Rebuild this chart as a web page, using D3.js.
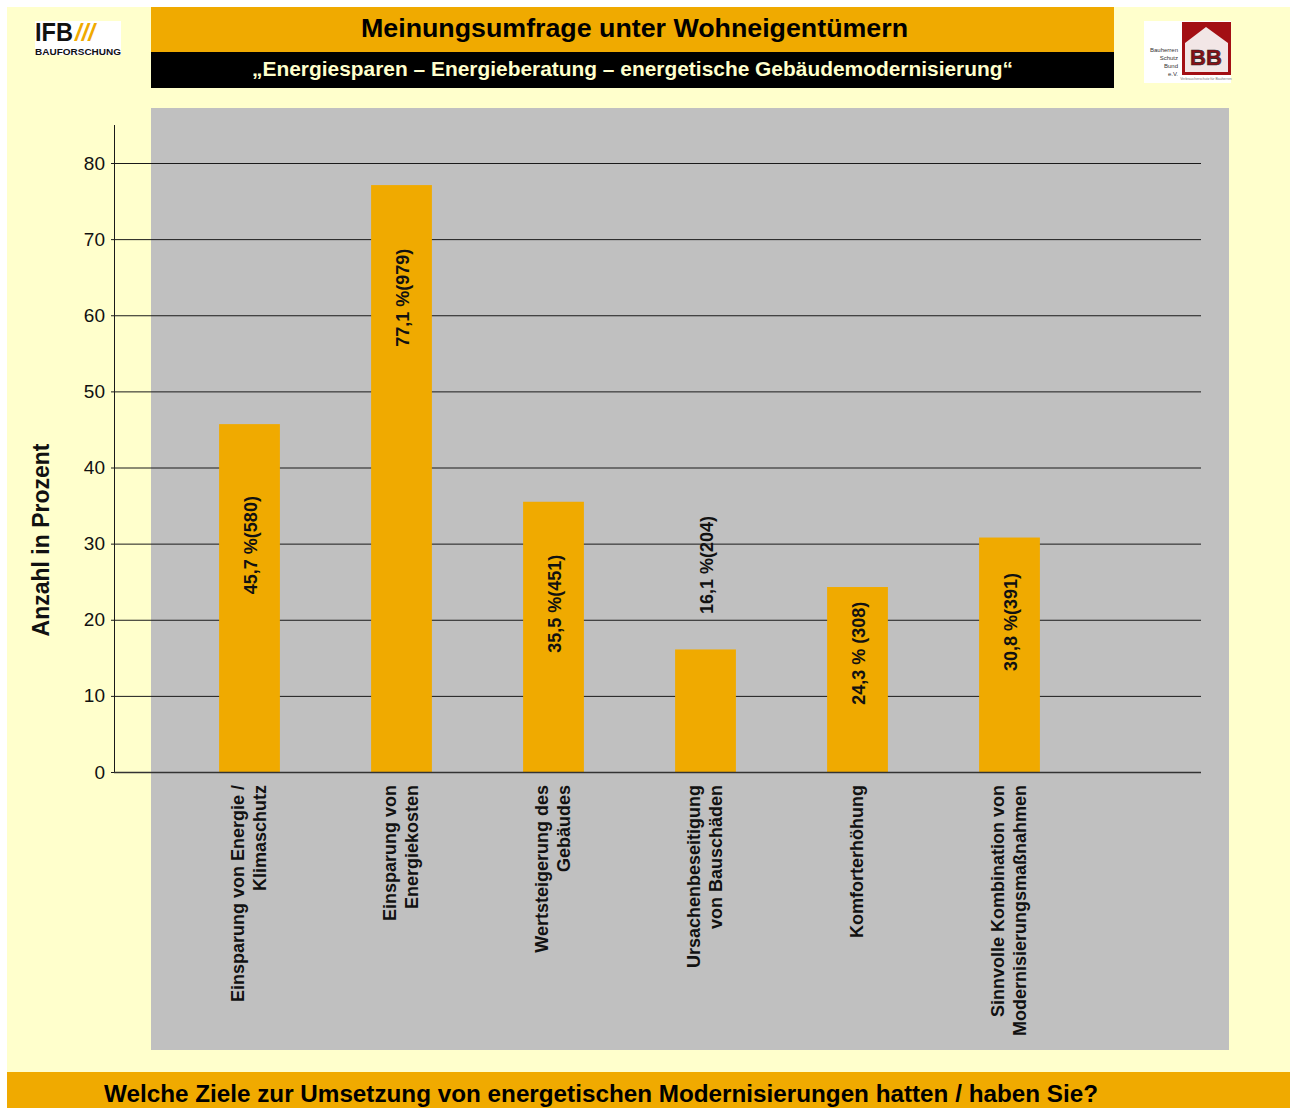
<!DOCTYPE html>
<html lang="de">
<head>
<meta charset="UTF-8">
<title>Meinungsumfrage unter Wohneigentümern</title>
<script src="https://cdn.jsdelivr.net/npm/d3@7"></script>
<style>
    body{ margin:0; background:#ffffff; }
    svg{ display:block; font-family:"Liberation Sans", Arial, sans-serif; }
</style>
</head>
<body>
<svg></svg>
<script>
    // Data
    const categories = [
        ["Einsparung von Energie /", "Klimaschutz"],
        ["Einsparung von", "Energiekosten"],
        ["Wertsteigerung des", "Gebäudes"],
        ["Ursachenbeseitigung", "von Bauschäden"],
        ["Komforterhöhung"],
        ["Sinnvolle Kombination von", "Modernisierungsmaßnahmen"]
    ];
    const values = [45.7, 77.1, 35.5, 16.1, 24.3, 30.8];
    const counts = [580, 979, 451, 204, 308, 391];
    const valueLabels = ["45,7 %(580)", "77,1 %(979)", "35,5 %(451)", "16,1 %(204)", "24,3 % (308)", "30,8 %(391)"];
    // where each value label sits, in axis units (placed by hand in the original)
    const labelAt = [29.8, 62.3, 22.1, 27.2, 15.6, 19.7];
    const yTicks = [0, 10, 20, 30, 40, 50, 60, 70, 80];

    const title = "Meinungsumfrage unter Wohneigentümern";
    const subtitle = "\u201EEnergiesparen \u2013 Energieberatung \u2013 energetische Gebäudemodernisierung\u201C";
    const question = "Welche Ziele zur Umsetzung von energetischen Modernisierungen hatten / haben Sie?";
    const yTitle = "Anzahl in Prozent";

    const width = 1290, height = 1108;
    const orange = "#f0aa00", cream = "#ffffcc", grey = "#c0c0c0";

    const svg = d3.select("svg").attr("width", width).attr("height", height);

    // page background
    svg.append("rect").attr("x", 7).attr("y", 7).attr("width", width - 7).attr("height", height - 7).attr("fill", cream);

    // header boxes
    svg.append("rect").attr("x", 151).attr("y", 7).attr("width", 963).attr("height", 45).attr("fill", orange);
    svg.append("rect").attr("x", 151).attr("y", 52).attr("width", 963).attr("height", 36).attr("fill", "#000");
    svg.append("text").attr("x", 361).attr("y", 37)
        .attr("textLength", 547).attr("lengthAdjust", "spacingAndGlyphs")
        .attr("font-size", 26).attr("font-weight", "bold").attr("fill", "#000").text(title);
    svg.append("text").attr("x", 252).attr("y", 76)
        .attr("textLength", 761).attr("lengthAdjust", "spacingAndGlyphs")
        .attr("font-size", 20).attr("font-weight", "bold").attr("fill", cream).text(subtitle);

    // IFB logo
    const ifb = svg.append("g").attr("transform", "translate(35,21)");
    ifb.append("rect").attr("width", 86).attr("height", 34).attr("fill", "#fff");
    ifb.append("text").attr("x", 0).attr("y", 20).attr("font-size", 26).attr("font-weight", "bold")
        .attr("textLength", 38).attr("lengthAdjust", "spacingAndGlyphs").attr("fill", "#111").text("IFB");
    ifb.append("text").attr("x", 40).attr("y", 20).attr("font-size", 24).attr("font-weight", "bold")
        .attr("font-style", "italic").attr("fill", orange).text("///");
    ifb.append("text").attr("x", 0).attr("y", 34).attr("font-size", 9).attr("font-weight", "bold")
        .attr("textLength", 86).attr("lengthAdjust", "spacingAndGlyphs").attr("fill", "#111").text("BAUFORSCHUNG");

    // Bauherren-Schutzbund logo
    const bsb = svg.append("g").attr("transform", "translate(1144,21)");
    bsb.append("rect").attr("width", 87).attr("height", 62).attr("fill", "#fff");
    ["Bauherren", "Schutz", "Bund", "e.V."].forEach((t, i) => {
        bsb.append("text").attr("x", 34).attr("y", 31 + i * 8).attr("text-anchor", "end")
            .attr("font-size", 6).attr("fill", "#333").text(t);
    });
    bsb.append("rect").attr("x", 38).attr("y", 1).attr("width", 49).attr("height", 53).attr("fill", "#a30f14");
    bsb.append("path").attr("d", "M41,22 L62,6 L84,22 L84,51 L41,51 Z").attr("fill", "#f2e6e6");
    bsb.append("text").attr("x", 62).attr("y", 44).attr("text-anchor", "middle").attr("font-size", 22)
        .attr("font-weight", "bold").attr("fill", "#8a1015").attr("stroke", "#222").attr("stroke-width", 0.6).text("BB");
    bsb.append("text").attr("x", 62).attr("y", 59).attr("text-anchor", "middle").attr("font-size", 3.5)
        .attr("fill", "#777").text("Verbraucherschutz für Bauherren");

    // plot area
    svg.append("rect").attr("x", 151).attr("y", 108).attr("width", 1078).attr("height", 942).attr("fill", grey);

    // scales
    const y = d3.scaleLinear().domain([0, 80]).range([772, 163]);
    const x = d3.scaleBand().domain(d3.range(categories.length))
        .range([173.5, 1085.5]).paddingInner(0.6).paddingOuter(0.3);

    // grid lines + axis
    const yAxis = d3.axisLeft(y).tickValues(yTicks).tickSize(-1087).tickPadding(8).tickSizeOuter(0);
    const ax = svg.append("g").attr("transform", "translate(114,0)").call(yAxis);
    ax.select(".domain").remove();
    ax.selectAll(".tick line").attr("stroke", "#1a1a1a").attr("stroke-width", 1).attr("x1", -3);
    ax.selectAll(".tick text").attr("font-size", 19).attr("fill", "#111")
        .attr("font-family", "'Liberation Sans', Arial, sans-serif").attr("x", -9);
    svg.append("line").attr("x1", 114.5).attr("x2", 114.5).attr("y1", 125).attr("y2", 772)
        .attr("stroke", "#1a1a1a").attr("stroke-width", 1);

    // bars
    svg.append("g").selectAll("rect").data(values).join("rect")
        .attr("x", (d, i) => x(i))
        .attr("y", d => y(d))
        .attr("width", x.bandwidth())
        .attr("height", d => y(0) - y(d))
        .attr("fill", orange);

    // zero line on top of bars
    svg.append("line").attr("x1", 114).attr("x2", 1201).attr("y1", y(0) + 0.5).attr("y2", y(0) + 0.5)
        .attr("stroke", "#333").attr("stroke-width", 1.3);

    // value labels
    svg.append("g").selectAll("text").data(valueLabels).join("text")
        .attr("transform", (d, i) => `translate(${x(i) + x.bandwidth() / 2 + 1},${y(labelAt[i])}) rotate(-90)`)
        .attr("text-anchor", "middle").attr("dy", "0.36em")
        .attr("font-size", 18).attr("font-weight", "bold").attr("fill", "#111")
        .text(d => d);

    // category labels
    const cat = svg.append("g").selectAll("text").data(categories).join("text")
        .attr("transform", (d, i) => `translate(${x(i) + x.bandwidth() / 2 - 1},785) rotate(-90)`)
        .attr("text-anchor", "end").attr("font-size", 18).attr("font-weight", "bold").attr("fill", "#111");
    cat.selectAll("tspan").data(d => d.map((t, k) => ({t, k, n: d.length}))).join("tspan")
        .attr("x", 0)
        .attr("y", d => (d.k - (d.n - 1) / 2) * 22)
        .attr("dy", "0.36em")
        .text(d => d.t);

    // y axis title
    svg.append("text").attr("transform", "translate(41,540) rotate(-90)")
        .attr("text-anchor", "middle").attr("dy", "0.36em")
        .attr("font-size", 23).attr("font-weight", "bold").attr("fill", "#111").text(yTitle);

    // question bar at the bottom
    svg.append("rect").attr("x", 7).attr("y", 1072).attr("width", width - 7).attr("height", 36).attr("fill", orange);
    svg.append("text").attr("x", 104).attr("y", 1102)
        .attr("textLength", 994).attr("lengthAdjust", "spacingAndGlyphs")
        .attr("font-size", 23).attr("font-weight", "bold").attr("fill", "#000").text(question);
</script>
</body>
</html>
